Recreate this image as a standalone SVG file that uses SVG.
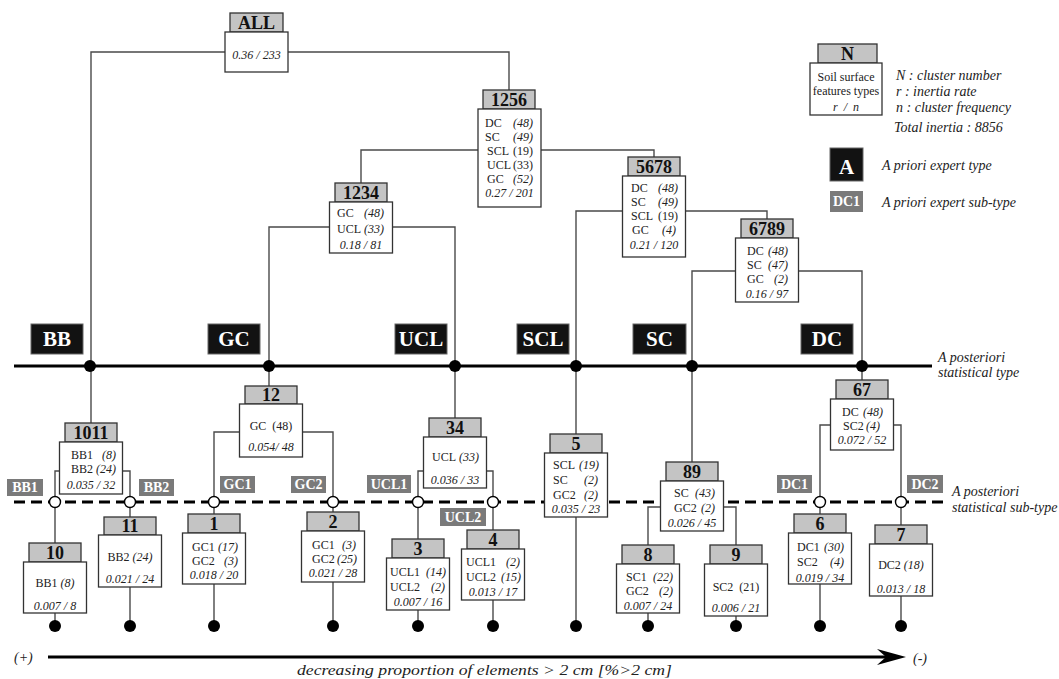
<svg xmlns="http://www.w3.org/2000/svg" width="1059" height="679" viewBox="0 0 1059 679">
<defs>
<style>
.hd{fill:#c4c4c4;stroke:#333;stroke-width:1.3}
.bx{fill:#fff;stroke:#333;stroke-width:1.3}
.hl{font-family:'Liberation Serif',serif;font-weight:bold;font-size:18px;fill:#111;text-anchor:middle}
.t{font-family:'Liberation Serif',serif;font-size:12px;fill:#222}
.i{font-style:italic}
.c{text-anchor:middle}
.e{text-anchor:end}
.con{fill:none;stroke:#4a4a4a;stroke-width:1.4}
.tyb{fill:#121212;stroke:#666;stroke-width:1}
.tyt{font-family:'Liberation Serif',serif;font-weight:bold;font-size:21px;fill:#fff;text-anchor:middle}
.stb{fill:#7a7a7a}
.stt{font-family:'Liberation Serif',serif;font-weight:bold;font-size:14px;fill:#fff;text-anchor:middle}
.lg{font-family:'Liberation Serif',serif;font-style:italic;font-size:14px;fill:#222}
.dot{fill:#000}
.oc{fill:#fff;stroke:#000;stroke-width:1.4}
</style>
</defs>
<rect width="1059" height="679" fill="#fff"/>

<!-- main lines -->
<g id="axes">
<line x1="14" y1="366" x2="932" y2="366" stroke="#000" stroke-width="3"/>
<line x1="14" y1="502" x2="943" y2="502" stroke="#000" stroke-width="3" stroke-dasharray="11 6"/>
<line x1="48" y1="657" x2="888" y2="657" stroke="#000" stroke-width="3"/>
<polygon points="906,657 877,649 886,657 877,665" fill="#000"/>
<text x="14" y="662" class="lg" font-size="16">(+)</text>
<text x="913" y="663" class="lg" font-size="16">(-)</text>
<text x="297" y="675" class="lg" font-size="18" textLength="375" lengthAdjust="spacingAndGlyphs">decreasing proportion of elements &gt; 2 cm [%&gt;2 cm]</text>
<text x="938" y="362" class="lg">A posteriori</text>
<text x="938" y="377" class="lg">statistical type</text>
<text x="952" y="496" class="lg">A posteriori</text>
<text x="952" y="512" class="lg">statistical sub-type</text>
</g>

<g id="connectors" class="con">
<polyline points="225,52 91,52 91,423"/>
<polyline points="288,52 509,52 509,90"/>
<polyline points="478,150 361,150 361,183"/>
<polyline points="541,150 654,150 654,157"/>
<polyline points="329,227 269,227 269,386"/>
<polyline points="392,227 455,227 455,418"/>
<polyline points="623,211 576,211 576,626"/>
<polyline points="686,211 767,211 767,220"/>
<polyline points="736,271 692,271 692,462"/>
<polyline points="799,271 862,271 862,380"/>
<polyline points="60,471 55,471 55,626"/>
<polyline points="122,471 130,471 130,626"/>
<polyline points="240,432 214,432 214,626"/>
<polyline points="302,432 333,432 333,626"/>
<polyline points="424,471 418,471 418,626"/>
<polyline points="486,471 493,471 493,626"/>
<polyline points="661,507 648,507 648,626"/>
<polyline points="723,507 736,507 736,626"/>
<polyline points="830,425 820,425 820,626"/>
<polyline points="893,425 901,425 901,626"/>
</g>

<g id="dots">
<circle class="dot" cx="90" cy="366" r="6"/>
<circle class="dot" cx="269" cy="366" r="6"/>
<circle class="dot" cx="455" cy="366" r="6"/>
<circle class="dot" cx="576" cy="366" r="6"/>
<circle class="dot" cx="692" cy="366" r="6"/>
<circle class="dot" cx="862" cy="366" r="6"/>
<circle class="oc" cx="55" cy="502" r="5.5"/>
<circle class="oc" cx="130" cy="502" r="5.5"/>
<circle class="oc" cx="214" cy="502" r="5.5"/>
<circle class="oc" cx="333" cy="502" r="5.5"/>
<circle class="oc" cx="418" cy="502" r="5.5"/>
<circle class="oc" cx="493" cy="502" r="5.5"/>
<circle class="oc" cx="820" cy="502" r="5.5"/>
<circle class="oc" cx="901" cy="502" r="5.5"/>
<circle class="dot" cx="55" cy="626" r="6"/>
<circle class="dot" cx="130" cy="626" r="6"/>
<circle class="dot" cx="214" cy="626" r="6"/>
<circle class="dot" cx="333" cy="626" r="6"/>
<circle class="dot" cx="418" cy="626" r="6"/>
<circle class="dot" cx="493" cy="626" r="6"/>
<circle class="dot" cx="576" cy="626" r="6"/>
<circle class="dot" cx="648" cy="626" r="6"/>
<circle class="dot" cx="736" cy="626" r="6"/>
<circle class="dot" cx="820" cy="626" r="6"/>
<circle class="dot" cx="901" cy="626" r="6"/>
</g>

<!-- a priori types -->
<g id="type-BB"><rect class="tyb" x="31" y="324" width="52" height="30"/><text class="tyt" x="57" y="346">BB</text></g>
<g id="type-GC"><rect class="tyb" x="208" y="324" width="52" height="30"/><text class="tyt" x="234" y="346">GC</text></g>
<g id="type-UCL"><rect class="tyb" x="395" y="324" width="52" height="30"/><text class="tyt" x="421" y="346">UCL</text></g>
<g id="type-SCL"><rect class="tyb" x="517" y="324" width="52" height="30"/><text class="tyt" x="543" y="346">SCL</text></g>
<g id="type-SC"><rect class="tyb" x="633" y="324" width="53" height="30"/><text class="tyt" x="659.5" y="346">SC</text></g>
<g id="type-DC"><rect class="tyb" x="801" y="324" width="52" height="30"/><text class="tyt" x="827" y="346">DC</text></g>

<!-- a priori sub-types -->
<g id="sub-BB1"><rect class="stb" x="7" y="479" width="36" height="17"/><text class="stt" x="25" y="492">BB1</text></g>
<g id="sub-BB2"><rect class="stb" x="139" y="479" width="35" height="17"/><text class="stt" x="156.5" y="492">BB2</text></g>
<g id="sub-GC1"><rect class="stb" x="220" y="476" width="35" height="17"/><text class="stt" x="237.5" y="489">GC1</text></g>
<g id="sub-GC2"><rect class="stb" x="291" y="476" width="35" height="17"/><text class="stt" x="308.5" y="489">GC2</text></g>
<g id="sub-UCL1"><rect class="stb" x="367" y="475" width="44" height="18"/><text class="stt" x="389" y="489">UCL1</text></g>
<g id="sub-UCL2"><rect class="stb" x="440" y="508" width="46" height="18"/><text class="stt" x="463" y="522">UCL2</text></g>
<g id="sub-DC1"><rect class="stb" x="777" y="475" width="35" height="18"/><text class="stt" x="794.5" y="489">DC1</text></g>
<g id="sub-DC2"><rect class="stb" x="907" y="475" width="36" height="18"/><text class="stt" x="925" y="489">DC2</text></g>

<!-- nodes -->
<g id="nALL"><rect class="hd" x="230" y="13" width="53" height="19"/><rect class="bx" x="225" y="32" width="63" height="40"/>
<text class="hl" x="256.5" y="29">ALL</text><text class="t i c" x="256.5" y="59">0.36 / 233</text></g>

<g id="n1256"><rect class="hd" x="483" y="90" width="52" height="19"/><rect class="bx" x="478" y="109" width="63" height="98"/>
<text class="hl" x="509" y="106">1256</text>
<text class="t" x="485" y="127">DC</text><text class="t i e" x="533" y="127">(48)</text>
<text class="t" x="485" y="141">SC</text><text class="t i e" x="533" y="141">(49)</text>
<text class="t" x="487" y="155">SCL</text><text class="t e" x="533" y="155">(19)</text>
<text class="t" x="487" y="169">UCL</text><text class="t e" x="533" y="169">(33)</text>
<text class="t" x="487" y="183">GC</text><text class="t i e" x="533" y="183">(52)</text>
<text class="t i c" x="509.5" y="197">0.27 / 201</text></g>

<g id="n1234"><rect class="hd" x="335" y="183" width="52" height="19"/><rect class="bx" x="329.5" y="202" width="63" height="51"/>
<text class="hl" x="361" y="199">1234</text>
<text class="t" x="337" y="217">GC</text><text class="t i e" x="384" y="217">(48)</text>
<text class="t" x="337" y="233">UCL</text><text class="t i e" x="384" y="233">(33)</text>
<text class="t i c" x="361" y="249">0.18 / 81</text></g>

<g id="n5678"><rect class="hd" x="628" y="157" width="52" height="19"/><rect class="bx" x="622.5" y="176" width="63" height="81"/>
<text class="hl" x="654" y="173">5678</text>
<text class="t" x="631" y="192">DC</text><text class="t i e" x="678" y="192">(48)</text>
<text class="t" x="631" y="206">SC</text><text class="t i e" x="678" y="206">(49)</text>
<text class="t" x="631" y="220">SCL</text><text class="t e" x="678" y="220">(19)</text>
<text class="t" x="632" y="234">GC</text><text class="t i e" x="676" y="234">(4)</text>
<text class="t i c" x="654" y="249">0.21 / 120</text></g>

<g id="n6789"><rect class="hd" x="741" y="219" width="52" height="19"/><rect class="bx" x="735.5" y="238" width="63" height="64"/>
<text class="hl" x="767" y="235">6789</text>
<text class="t" x="747" y="255">DC</text><text class="t i e" x="788" y="255">(48)</text>
<text class="t" x="747" y="269">SC</text><text class="t i e" x="788" y="269">(47)</text>
<text class="t" x="747" y="283">GC</text><text class="t i e" x="788" y="283">(2)</text>
<text class="t i c" x="767" y="298">0.16 / 97</text></g>

<g id="n1011"><rect class="hd" x="65" y="423" width="52" height="19"/><rect class="bx" x="59.5" y="442" width="63" height="52"/>
<text class="hl" x="91" y="439">1011</text>
<text class="t" x="71" y="459">BB1</text><text class="t i e" x="116" y="459">(8)</text>
<text class="t" x="71" y="473">BB2</text><text class="t i e" x="116" y="473">(24)</text>
<text class="t i c" x="91" y="489">0.035 / 32</text></g>

<g id="n12"><rect class="hd" x="245" y="386" width="52" height="18"/><rect class="bx" x="239.5" y="404" width="63" height="53"/>
<text class="hl" x="271" y="401">12</text>
<text class="t c" x="271" y="430" xml:space="preserve">GC  (48)</text>
<text class="t i c" x="271" y="451">0.054/ 48</text></g>

<g id="n34"><rect class="hd" x="429" y="418" width="52" height="19"/><rect class="bx" x="423.5" y="437" width="63" height="51"/>
<text class="hl" x="455" y="434">34</text>
<text class="t" x="432" y="461">UCL</text><text class="t i e" x="479" y="461">(33)</text>
<text class="t i c" x="455" y="484">0.036 / 33</text></g>

<g id="n5"><rect class="hd" x="550" y="434" width="52" height="19"/><rect class="bx" x="544.5" y="453" width="63" height="64"/>
<text class="hl" x="576" y="450">5</text>
<text class="t" x="553" y="469">SCL</text><text class="t i e" x="599" y="469">(19)</text>
<text class="t" x="553" y="484">SC</text><text class="t i e" x="598" y="484">(2)</text>
<text class="t" x="553" y="499">GC2</text><text class="t i e" x="598" y="499">(2)</text>
<text class="t i c" x="576" y="513">0.035 / 23</text></g>

<g id="n89"><rect class="hd" x="666" y="462" width="52" height="19"/><rect class="bx" x="660.5" y="481" width="63" height="50"/>
<text class="hl" x="692" y="478">89</text>
<text class="t" x="674" y="497">SC</text><text class="t i e" x="715" y="497">(43)</text>
<text class="t" x="674" y="512">GC2</text><text class="t i e" x="715" y="512">(2)</text>
<text class="t i c" x="692" y="527">0.026 / 45</text></g>

<g id="n67"><rect class="hd" x="836" y="380" width="52" height="19"/><rect class="bx" x="830.5" y="399" width="63" height="51"/>
<text class="hl" x="862" y="396">67</text>
<text class="t" x="842" y="416">DC</text><text class="t i e" x="883" y="416">(48)</text>
<text class="t" x="843" y="430">SC2</text><text class="t i e" x="880" y="430">(4)</text>
<text class="t i c" x="862" y="444">0.072 / 52</text></g>

<g id="n10"><rect class="hd" x="29" y="543" width="52" height="19"/><rect class="bx" x="23.5" y="562" width="63" height="51"/>
<text class="hl" x="55" y="559">10</text>
<text class="t c" x="55" y="587">BB1 <tspan class="i">(8)</tspan></text>
<text class="t i c" x="55" y="610">0.007 / 8</text></g>

<g id="n11"><rect class="hd" x="104" y="517" width="52" height="18"/><rect class="bx" x="98.5" y="535" width="63" height="52"/>
<text class="hl" x="130" y="532">11</text>
<text class="t c" x="130" y="561">BB2 <tspan class="i">(24)</tspan></text>
<text class="t i c" x="130" y="583">0.021 / 24</text></g>

<g id="n1"><rect class="hd" x="188" y="514" width="52" height="19"/><rect class="bx" x="182.5" y="533" width="63" height="51"/>
<text class="hl" x="214" y="530">1</text>
<text class="t" x="192" y="551">GC1</text><text class="t i e" x="238" y="551">(17)</text>
<text class="t" x="192" y="565">GC2</text><text class="t i e" x="238" y="565">(3)</text>
<text class="t i c" x="214" y="579">0.018 / 20</text></g>

<g id="n2"><rect class="hd" x="307" y="512" width="52" height="19"/><rect class="bx" x="301.5" y="531" width="63" height="51"/>
<text class="hl" x="333" y="528">2</text>
<text class="t" x="312" y="549">GC1</text><text class="t i e" x="356" y="549">(3)</text>
<text class="t" x="312" y="563">GC2</text><text class="t i e" x="357" y="563">(25)</text>
<text class="t i c" x="333" y="577">0.021 / 28</text></g>

<g id="n3"><rect class="hd" x="392" y="539" width="52" height="19"/><rect class="bx" x="386.5" y="558" width="63" height="52"/>
<text class="hl" x="418" y="555">3</text>
<text class="t" x="390" y="576">UCL1</text><text class="t i e" x="446" y="576">(14)</text>
<text class="t" x="390" y="591">UCL2</text><text class="t i e" x="445" y="591">(2)</text>
<text class="t i c" x="418" y="606">0.007 / 16</text></g>

<g id="n4"><rect class="hd" x="467" y="530" width="52" height="19"/><rect class="bx" x="461.5" y="549" width="63" height="51"/>
<text class="hl" x="493" y="546">4</text>
<text class="t" x="466" y="566">UCL1</text><text class="t i e" x="520" y="566">(2)</text>
<text class="t" x="466" y="581">UCL2</text><text class="t i e" x="521" y="581">(15)</text>
<text class="t i c" x="493" y="596">0.013 / 17</text></g>

<g id="n8"><rect class="hd" x="622" y="545" width="52" height="19"/><rect class="bx" x="616.5" y="564" width="63" height="49"/>
<text class="hl" x="648" y="561">8</text>
<text class="t" x="626" y="581">SC1</text><text class="t i e" x="673" y="581">(22)</text>
<text class="t" x="626" y="595">GC2</text><text class="t i e" x="673" y="595">(2)</text>
<text class="t i c" x="648" y="610">0.007 / 24</text></g>

<g id="n9"><rect class="hd" x="710" y="545" width="52" height="19"/><rect class="bx" x="704.5" y="564" width="63" height="52"/>
<text class="hl" x="736" y="561">9</text>
<text class="t c" x="736" y="591" xml:space="preserve">SC2  (21)</text>
<text class="t i c" x="736" y="612">0.006 / 21</text></g>

<g id="n6"><rect class="hd" x="794" y="514" width="52" height="19"/><rect class="bx" x="788.5" y="533" width="63" height="51"/>
<text class="hl" x="820" y="530">6</text>
<text class="t" x="797" y="551">DC1</text><text class="t i e" x="844" y="551">(30)</text>
<text class="t" x="797" y="566">SC2</text><text class="t i e" x="844" y="566">(4)</text>
<text class="t i c" x="820" y="582">0.019 / 34</text></g>

<g id="n7"><rect class="hd" x="875" y="525" width="52" height="19"/><rect class="bx" x="869.5" y="544" width="63" height="52"/>
<text class="hl" x="901" y="541">7</text>
<text class="t c" x="901" y="569">DC2 <tspan class="i">(18)</tspan></text>
<text class="t i c" x="901" y="593">0.013 / 18</text></g>

<!-- legend -->
<g id="legend">
<rect class="hd" x="818" y="44" width="59" height="19"/><rect class="bx" x="810" y="63" width="72" height="52"/>
<text class="hl" x="847.5" y="60">N</text>
<text class="t c" x="846" y="81" font-size="11.5">Soil surface</text>
<text class="t c" x="846" y="95" font-size="11.5">features types</text>
<text class="t i c" x="846" y="111" xml:space="preserve">r  /  n</text>
<text class="lg" x="896" y="80">N : cluster number</text>
<text class="lg" x="896" y="96">r : inertia rate</text>
<text class="lg" x="896" y="112">n : cluster frequency</text>
<text class="lg" x="894" y="132">Total inertia : 8856</text>
<rect class="tyb" x="830" y="148" width="33" height="33"/>
<text class="tyt" x="846.5" y="174" font-size="26">A</text>
<text class="lg" x="882" y="170">A priori expert type</text>
<rect class="stb" x="830" y="191" width="33" height="21"/>
<text class="stt" x="846.5" y="206">DC1</text>
<text class="lg" x="882" y="207">A priori expert sub-type</text>
</g>
</svg>
